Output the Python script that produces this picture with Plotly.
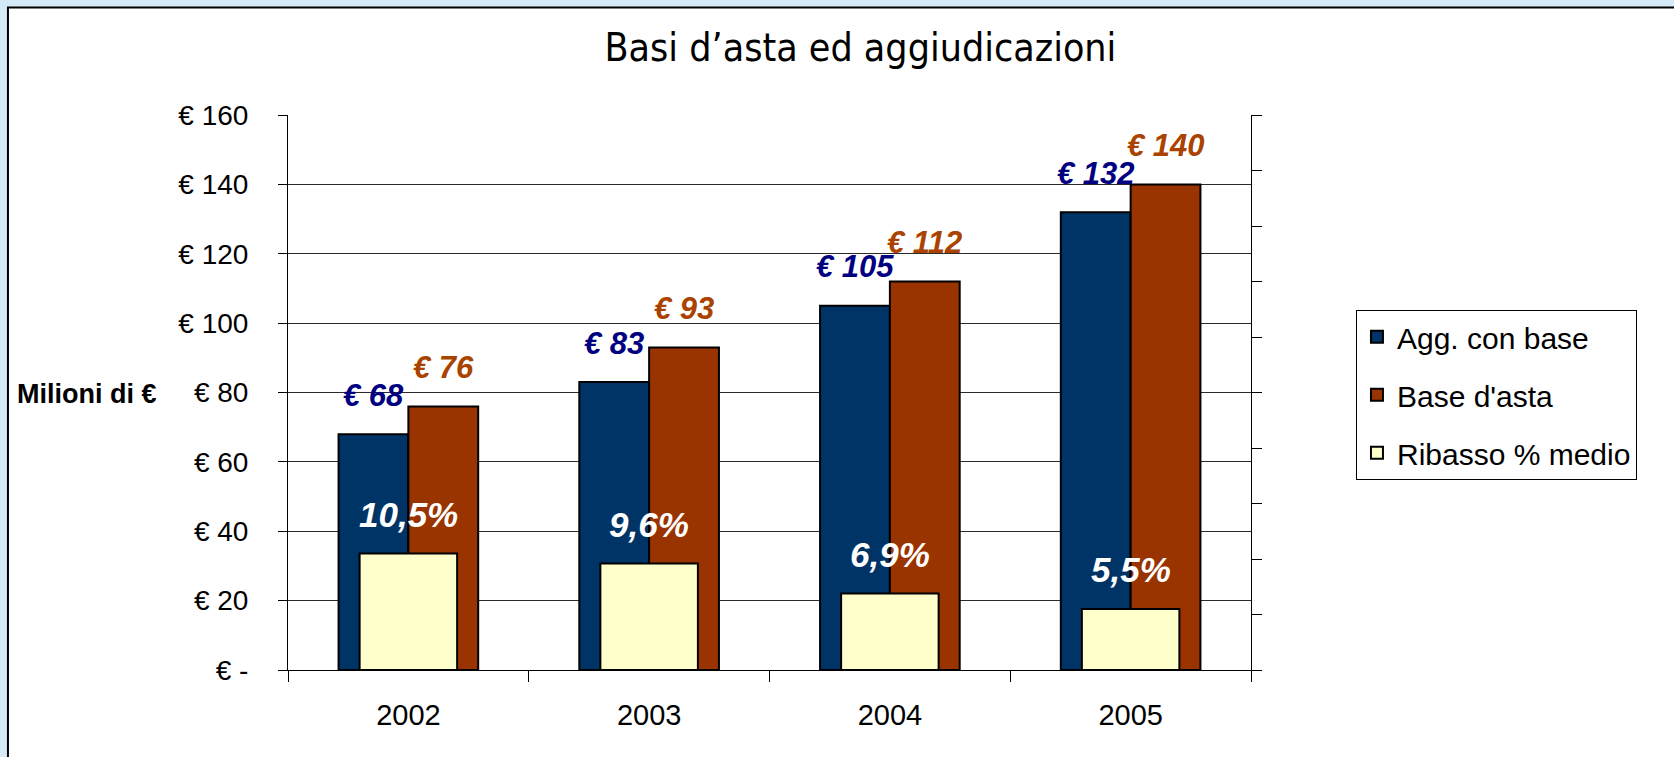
import plotly.graph_objects as go

# --- data ---
years = ["2002", "2003", "2004", "2005"]
agg_con_base = [68, 83, 105, 132]        # milioni di euro
base_asta = [76, 93, 112, 140]           # milioni di euro
ribasso_medio = [0.105, 0.096, 0.069, 0.055]
ribasso_text = ["10,5%", "9,6%", "6,9%", "5,5%"]

y_ticks = [0, 20, 40, 60, 80, 100, 120, 140, 160]
y_ticktext = ["€ -", "€ 20", "€ 40", "€ 60", "€ 80", "€ 100", "€ 120", "€ 140", "€ 160"]

NAVY = "#003366"
BROWN = "#993300"
CREAM = "#FFFFCC"
ARIAL = "Liberation Sans, Arial, sans-serif"

BAR_W = 0.29
RIB_W = 0.405

fig = go.Figure()

fig.add_trace(go.Bar(
    x=years, y=agg_con_base, name="Agg. con base",
    width=BAR_W, offset=-BAR_W,
    marker=dict(color=NAVY, line=dict(color="black", width=2)),
    legendgroup="a", hoverinfo="y",
))
fig.add_trace(go.Bar(
    x=years, y=base_asta, name="Base d'asta",
    width=BAR_W, offset=0,
    marker=dict(color=BROWN, line=dict(color="black", width=2)),
    legendgroup="b", hoverinfo="y",
))
fig.add_trace(go.Bar(
    x=years, y=ribasso_medio, name="Ribasso % medio",
    width=RIB_W, offset=-RIB_W / 2, yaxis="y2",
    marker=dict(color=CREAM, line=dict(color="black", width=2)),
    legendgroup="c", hoverinfo="y",
))

# data labels, placed above each bar like the Excel original
annotations = []
for i, (a, b, r, rt) in enumerate(zip(agg_con_base, base_asta, ribasso_medio, ribasso_text)):
    annotations.append(dict(
        x=i - BAR_W / 2, y=a, xref="x", yref="y", text=f"€ {a}",
        showarrow=False, yshift=39, yanchor="middle",
        font=dict(family=ARIAL, size=31, color="#000080", weight="bold", style="italic"),
    ))
    annotations.append(dict(
        x=i + BAR_W / 2, y=b, xref="x", yref="y", text=f"€ {b}",
        showarrow=False, yshift=39, yanchor="middle",
        font=dict(family=ARIAL, size=31, color="#AA4200", weight="bold", style="italic"),
    ))
    annotations.append(dict(
        x=i, y=r, xref="x", yref="y2", text=rt,
        showarrow=False, yshift=39, yanchor="middle",
        font=dict(family=ARIAL, size=35, color="white", weight="bold", style="italic"),
    ))

annotations.append(dict(
    x=-0.2087, y=0.497, xref="paper", yref="paper", text="<b>Milioni di €</b>",
    showarrow=False, xanchor="center", yanchor="middle",
    font=dict(family=ARIAL, size=27, color="black"),
))

fig.update_layout(
    width=1674,
    height=757,
    margin=dict(l=288, r=423, t=115, b=87),
    paper_bgcolor="#D4EAF6",
    plot_bgcolor="#CCCCFF",
    barmode="overlay",
    title=dict(
        text="Basi d’asta ed aggiudicazioni",
        x=0.514, xanchor="center", y=0.937, yanchor="middle",
        font=dict(family="DejaVu Sans Condensed, DejaVu Sans, sans-serif", size=39, color="black"),
    ),
    xaxis=dict(
        type="category", range=[-0.5, 3.5],
        tickson="boundaries", ticks="outside", ticklen=11, tickcolor="black",
        showline=True, linecolor="black", linewidth=1, showgrid=False,
        tickfont=dict(family=ARIAL, size=29, color="black"),
        ticklabelstandoff=19,
    ),
    yaxis=dict(
        range=[0, 160], tickvals=y_ticks, ticktext=y_ticktext,
        ticks="outside", ticklen=9, tickcolor="black",
        showline=True, linecolor="black", linewidth=1,
        showgrid=True, gridcolor="#2b2b2b", gridwidth=1, zeroline=False,
        tickfont=dict(family=ARIAL, size=28, color="black"),
        ticklabelstandoff=24,
    ),
    yaxis2=dict(
        overlaying="y", side="right", range=[0, 0.5], dtick=0.05,
        ticks="outside", ticklen=10, tickcolor="black",
        showline=True, linecolor="black", linewidth=1,
        showgrid=False, zeroline=False, showticklabels=False,
    ),
    yaxis3=dict(
        overlaying="y", side="right", anchor="x", range=[0, 0.5], dtick=0.05,
        ticks="inside", ticklen=10, tickcolor="black",
        showline=False, showgrid=False, zeroline=False, showticklabels=False,
    ),
    legend=dict(
        x=1.109, y=0.649, xanchor="left", yanchor="top",
        bgcolor="white", bordercolor="black", borderwidth=1,
        font=dict(family=ARIAL, size=30, color="black"),
        traceorder="grouped", tracegroupgap=16,
    ),
    showlegend=True,
    annotations=annotations,
    shapes=[
        # white chart frame with black border, running off the right and bottom
        dict(type="rect", xref="paper", yref="paper",
             x0=-0.2908, x1=1.6, y0=-0.5, y1=1.1937,
             fillcolor="white", line=dict(color="black", width=2), layer="below"),
    ],
)

# drop the browser's default 8px body margin so the figure sits at the page origin
fig.write_html(
    "out.html",
    config={"displayModeBar": False},
    post_script="document.body.style.margin='0';",
)
